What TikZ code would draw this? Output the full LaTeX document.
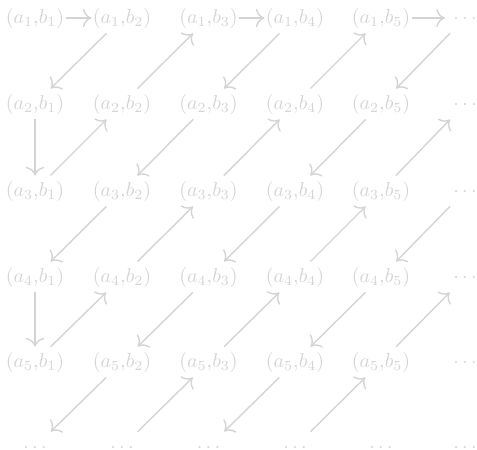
\documentclass[tikz,border=0pt]{standalone}
\usetikzlibrary{cd}
\definecolor{lg}{RGB}{212,212,212}
\begin{document}
\begin{tikzpicture}[x=0.5pt,y=-0.5pt,
  cell/.style={text=lg,inner xsep=0.5pt,inner ysep=2.5pt,text height=7.5pt,text depth=2.5pt},
  dotcell/.style={cell,inner xsep=4pt},
  arr/.style={draw=lg,line width=0.7pt,-cm to}]
\useasboundingbox (0,0) rectangle (477,450);
\def\colx{{35,122,208.5,295,381,465}}
\def\rowy{{18,104,191,277,362,447}}
\foreach \r [evaluate=\r as \yy using {\rowy[\r-1]}] in {1,...,5}{
  \foreach \c [evaluate=\c as \xx using {\colx[\c-1]}] in {1,...,5}{
    \node[cell] (m-\r-\c) at (\xx,\yy) {$(a_{\r}{,}b_{\c})$};
  }
  \node[dotcell] (m-\r-6) at (465,\yy) {$\cdots$};
}
\foreach \c [evaluate=\c as \xx using {\colx[\c-1]}] in {1,...,6}{
  \node[dotcell] (m-6-\c) at (\xx,447) {$\cdots$};
}
% first row
\draw[arr] (m-1-1) -- (m-1-2);
\draw[arr] (m-1-3) -- (m-1-4);
\draw[arr] (m-1-5) -- (m-1-6);
% verticals
\draw[arr] (m-2-1) -- (m-3-1);
\draw[arr] (m-4-1) -- (m-5-1);
% diagonals
\draw[arr] (m-1-2) -- (m-2-1);
\draw[arr] (m-2-2) -- (m-1-3);
\draw[arr] (m-1-4) -- (m-2-3);
\draw[arr] (m-2-4) -- (m-1-5);
\draw[arr] (m-1-6) -- (m-2-5);
\draw[arr] (m-3-1) -- (m-2-2);
\draw[arr] (m-2-3) -- (m-3-2);
\draw[arr] (m-3-3) -- (m-2-4);
\draw[arr] (m-2-5) -- (m-3-4);
\draw[arr] (m-3-5) -- (m-2-6);
\draw[arr] (m-3-2) -- (m-4-1);
\draw[arr] (m-4-2) -- (m-3-3);
\draw[arr] (m-3-4) -- (m-4-3);
\draw[arr] (m-4-4) -- (m-3-5);
\draw[arr] (m-3-6) -- (m-4-5);
\draw[arr] (m-5-1) -- (m-4-2);
\draw[arr] (m-4-3) -- (m-5-2);
\draw[arr] (m-5-3) -- (m-4-4);
\draw[arr] (m-4-5) -- (m-5-4);
\draw[arr] (m-5-5) -- (m-4-6);
\draw[arr] (m-5-2) -- (m-6-1);
\draw[arr] (m-6-2) -- (m-5-3);
\draw[arr] (m-5-4) -- (m-6-3);
\draw[arr] (m-6-4) -- (m-5-5);
\end{tikzpicture}
\end{document}
